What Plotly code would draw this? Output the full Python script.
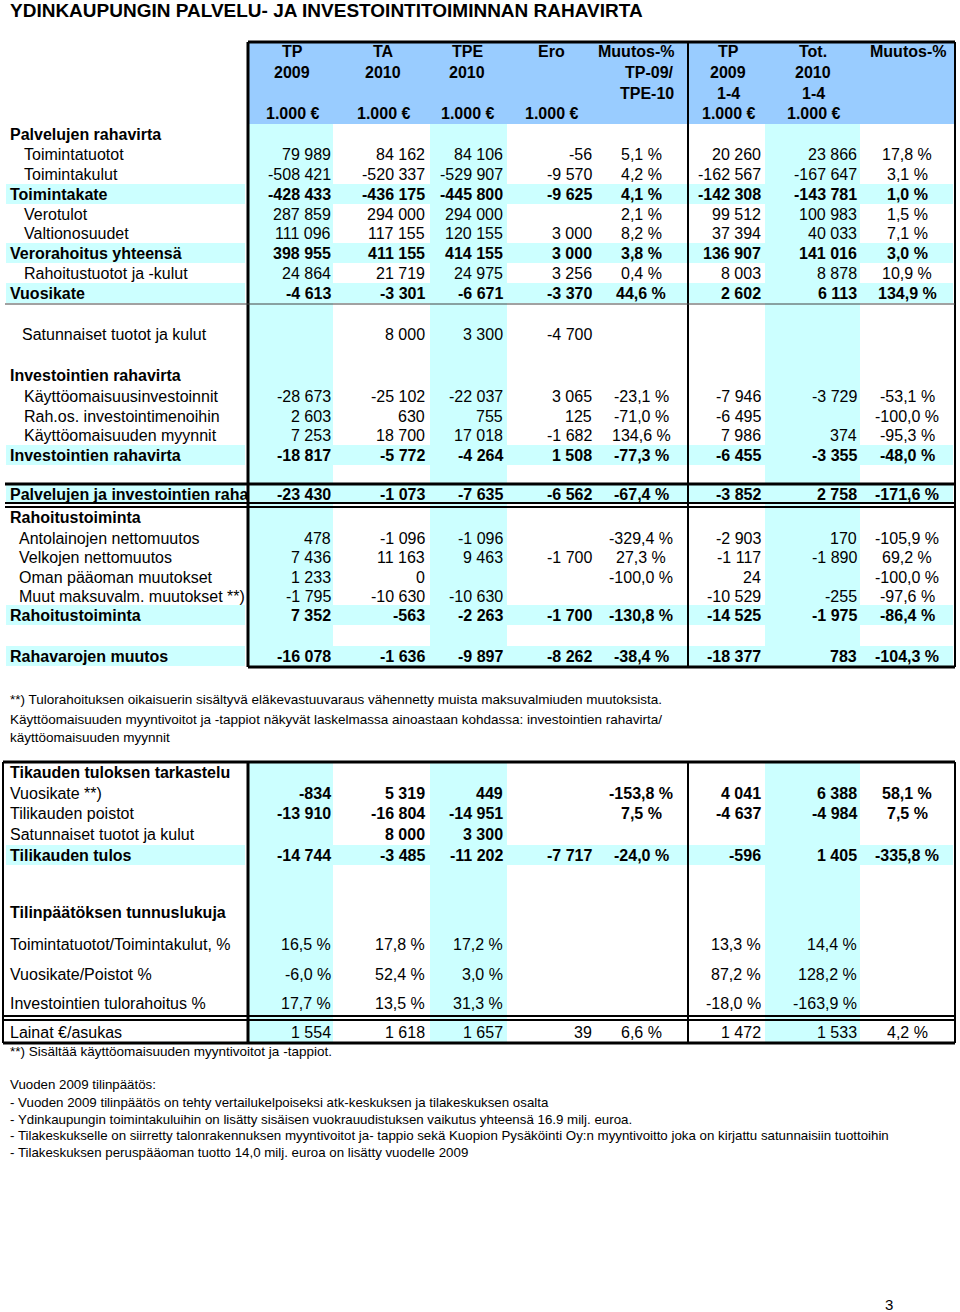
import plotly.graph_objects as go

BASE = "Liberation Sans, Arial, sans-serif"
NARROW = "Liberation Sans Narrow, Arial Narrow, Liberation Sans, sans-serif"
HEAD_BLUE = "#99CCFF"
CYAN = "#CCFFFF"

title = "YDINKAUPUNGIN PALVELU- JA INVESTOINTITOIMINNAN RAHAVIRTA"

# ---- header ----
header_rows = [
    ["TP", "TA", "TPE", "Ero", "Muutos-%", "TP", "Tot.", "Muutos-%"],
    ["2009", "2010", "2010", "", "TP-09/", "2009", "2010", ""],
    ["", "", "", "", "TPE-10", "1-4", "1-4", ""],
    ["1.000 €", "1.000 €", "1.000 €", "1.000 €", "", "1.000 €", "1.000 €", ""],
]

# ---- main cash flow table ----
main_labels = [
    "Palvelujen rahavirta", "Toimintatuotot", "Toimintakulut", "Toimintakate",
    "Verotulot", "Valtionosuudet", "Verorahoitus yhteensä", "Rahoitustuotot ja -kulut",
    "Vuosikate", "Satunnaiset tuotot ja kulut", "Investointien rahavirta",
    "Käyttöomaisuusinvestoinnit", "Rah.os. investointimenoihin", "Käyttöomaisuuden myynnit",
    "Investointien rahavirta", "Palvelujen ja investointien raha", "Rahoitustoiminta",
    "Antolainojen nettomuutos", "Velkojen nettomuutos", "Oman pääoman muutokset",
    "Muut maksuvalm. muutokset **)", "Rahoitustoiminta", "Rahavarojen muutos",
]
main_style = [
    "head", "sub", "sub", "total", "sub", "sub", "total", "sub", "total", "plain",
    "head", "sub", "sub", "sub", "total", "total", "head",
    "sub2", "sub2", "sub2", "sub2", "total", "total",
]
tp_2009 = [None, 79989, -508421, -428433, 287859, 111096, 398955, 24864, -4613, None,
           None, -28673, 2603, 7253, -18817, -23430, None,
           478, 7436, 1233, -1795, 7352, -16078]
ta_2010 = [None, 84162, -520337, -436175, 294000, 117155, 411155, 21719, -3301, 8000,
           None, -25102, 630, 18700, -5772, -1073, None,
           -1096, 11163, 0, -10630, -563, -1636]
tpe_2010 = [None, 84106, -529907, -445800, 294000, 120155, 414155, 24975, -6671, 3300,
            None, -22037, 755, 17018, -4264, -7635, None,
            -1096, 9463, None, -10630, -2263, -9897]
ero = [None, -56, -9570, -9625, None, 3000, 3000, 3256, -3370, -4700,
       None, 3065, 125, -1682, 1508, -6562, None,
       None, -1700, None, None, -1700, -8262]
muutos = [None, 5.1, 4.2, 4.1, 2.1, 8.2, 3.8, 0.4, 44.6, None,
          None, -23.1, -71.0, 134.6, -77.3, -67.4, None,
          -329.4, 27.3, -100.0, None, -130.8, -38.4]
tp_2009_14 = [None, 20260, -162567, -142308, 99512, 37394, 136907, 8003, 2602, None,
              None, -7946, -6495, 7986, -6455, -3852, None,
              -2903, -1117, 24, -10529, -14525, -18377]
tot_2010_14 = [None, 23866, -167647, -143781, 100983, 40033, 141016, 8878, 6113, None,
               None, -3729, None, 374, -3355, 2758, None,
               170, -1890, None, -255, -1975, 783]
muutos_14 = [None, 17.8, 3.1, 1.0, 1.5, 7.1, 3.0, 10.9, 134.9, None,
             None, -53.1, -100.0, -95.3, -48.0, -171.6, None,
             -105.9, 69.2, -100.0, -97.6, -86.4, -104.3]

# ---- result table ----
res_labels = ["Tikauden tuloksen tarkastelu", "Vuosikate **)", "Tilikauden poistot",
              "Satunnaiset tuotot ja kulut", "Tilikauden tulos"]
res_style = ["head", "bval", "bval", "bval", "total"]
res_tp_2009 = [None, -834, -13910, None, -14744]
res_ta_2010 = [None, 5319, -16804, 8000, -3485]
res_tpe_2010 = [None, 449, -14951, 3300, -11202]
res_ero = [None, None, None, None, -7717]
res_muutos = [None, -153.8, 7.5, None, -24.0]
res_tp_2009_14 = [None, 4041, -4637, None, -596]
res_tot_2010_14 = [None, 6388, -4984, None, 1405]
res_muutos_14 = [None, 58.1, 7.5, None, -335.8]

# ---- key figures ----
key_labels = ["Tilinpäätöksen tunnuslukuja", "Toimintatuotot/Toimintakulut, %",
              "Vuosikate/Poistot %", "Investointien tulorahoitus %", "Lainat €/asukas"]
key_kind = ["none", "pct", "pct", "pct", "num"]
key_tp_2009 = [None, 16.5, -6.0, 17.7, 1554]
key_ta_2010 = [None, 17.8, 52.4, 13.5, 1618]
key_tpe_2010 = [None, 17.2, 3.0, 31.3, 1657]
key_ero = [None, None, None, None, 39]
key_muutos = [None, None, None, None, 6.6]
key_tp_2009_14 = [None, 13.3, 87.2, -18.0, 1472]
key_tot_2010_14 = [None, 14.4, 128.2, -163.9, 1533]
key_muutos_14 = [None, None, None, None, 4.2]

notes_mid = [
    "**) Tulorahoituksen oikaisuerin sisältyvä eläkevastuuvaraus vähennetty muista maksuvalmiuden muutoksista.",
    "Käyttöomaisuuden myyntivoitot ja -tappiot näkyvät laskelmassa ainoastaan kohdassa: investointien rahavirta/",
    "käyttöomaisuuden myynnit",
]
note_key = "**) Sisältää käyttöomaisuuden myyntivoitot ja -tappiot."
notes_bottom = [
    "Vuoden 2009 tilinpäätös:",
    "- Vuoden 2009 tilinpäätös on tehty vertailukelpoiseksi atk-keskuksen ja tilakeskuksen osalta",
    "- Ydinkaupungin toimintakuluihin on lisätty sisäisen vuokrauudistuksen vaikutus yhteensä 16.9 milj. euroa.",
    "- Tilakeskukselle on siirretty talonrakennuksen myyntivoitot ja- tappio sekä Kuopion Pysäköinti Oy:n myyntivoitto joka on kirjattu satunnaisiin tuottoihin",
    "- Tilakeskuksen peruspääoman tuotto 14,0 milj. euroa on lisätty vuodelle 2009",
]
page_no = "3"

# ---- layout (pixel grid of the page) ----
col_x = [331, 425, 503, 592, 641, 761, 857, 907]
col_anchor = ["right"] * 4 + ["center"] + ["right"] * 2 + ["center"]
col_kind = ["num"] * 4 + ["pct"] + ["num"] * 2 + ["pct"]
head_x = [292, 383, 467, 551, 674, 728, 813, 946]
head_anchor = ["center"] * 4 + ["right"] + ["center"] * 2 + ["right"]
head_y = [51, 72, 93, 113]
main_y = [134, 154, 174, 194, 214, 233, 253, 273, 293, 334, 375, 396, 416, 435, 455,
          494, 517, 538, 557, 577, 596, 615, 656]
res_y = [772, 793, 813, 834, 855]
key_y = [912, 944, 974, 1003, 1032]
label_x = {"head": 10, "total": 10, "sub": 24, "sub2": 19, "plain": 22, "bval": 10}
cyan_cols = [(249, 333), (430, 507), (765, 860)]
FS = 16
# annotation padding compensation
DX = {"left": -2, "right": 2, "center": 0}

shapes = []
anns = []


def rect(x0, x1, y0, y1, color):
    shapes.append(dict(type="rect", xref="x", yref="y", x0=x0, x1=x1, y0=y0, y1=y1,
                       fillcolor=color, line=dict(width=0), layer="below"))


def line(x0, y0, x1, y1, w=2, color="black"):
    shapes.append(dict(type="line", xref="x", yref="y", x0=x0, y0=y0, x1=x1, y1=y1,
                       line=dict(color=color, width=w)))


def txt(x, y, s, anchor="left", bold=False, size=FS, family=BASE):
    anns.append(dict(x=x + DX[anchor], y=y, xref="x", yref="y",
                     text=f"<b>{s}</b>" if bold else s,
                     showarrow=False, xanchor=anchor, yanchor="middle",
                     font=dict(size=size, family=family, color="black")))


def fmt(v, kind):
    if v is None:
        return ""
    if kind == "pct":
        return f"{v:.1f}".replace(".", ",") + " %"
    return f"{v:,}".replace(",", " ")


# backgrounds
rect(249, 954, 43, 124, HEAD_BLUE)
for x0, x1 in cyan_cols:
    rect(x0, x1, 124, 667, CYAN)
    rect(x0, x1, 763, 1043, CYAN)
for y, st in zip(main_y, main_style):
    if st == "total":
        rect(6, 245, y - 10, y + 10, CYAN)
        rect(249, 953, y - 10, y + 10, CYAN)
for y, st in zip(res_y, res_style):
    if st == "total":
        rect(6, 245, y - 10, y + 10, CYAN)
        rect(249, 953, y - 10, y + 10, CYAN)

# title
txt(10, 10, title, bold=True, size=19, family=NARROW)

# header
for r, row in enumerate(header_rows):
    for c, s in enumerate(row):
        if s:
            txt(head_x[c], head_y[r], s, anchor=head_anchor[c], bold=True)

# main table
main_cols = [tp_2009, ta_2010, tpe_2010, ero, muutos, tp_2009_14, tot_2010_14, muutos_14]
for i, (lab, st, y) in enumerate(zip(main_labels, main_style, main_y)):
    bold = st in ("head", "total")
    txt(label_x[st], y, lab, bold=bold)
    for c, col in enumerate(main_cols):
        s = fmt(col[i], col_kind[c])
        if s:
            txt(col_x[c], y, s, anchor=col_anchor[c], bold=(st == "total"))

# result table
res_cols = [res_tp_2009, res_ta_2010, res_tpe_2010, res_ero, res_muutos,
            res_tp_2009_14, res_tot_2010_14, res_muutos_14]
for i, (lab, st, y) in enumerate(zip(res_labels, res_style, res_y)):
    txt(label_x[st], y, lab, bold=st in ("head", "total"))
    for c, col in enumerate(res_cols):
        s = fmt(col[i], col_kind[c])
        if s:
            txt(col_x[c], y, s, anchor=col_anchor[c], bold=True)

# key figures
key_cols = [key_tp_2009, key_ta_2010, key_tpe_2010, key_ero, key_muutos,
            key_tp_2009_14, key_tot_2010_14, key_muutos_14]
for i, (lab, kind, y) in enumerate(zip(key_labels, key_kind, key_y)):
    txt(10, y, lab, bold=(kind == "none"), size=16, family=NARROW)
    for c, col in enumerate(key_cols):
        k = kind if col_kind[c] == "num" else "pct"
        s = fmt(col[i], k)
        if s:
            txt(col_x[c], y, s, anchor=col_anchor[c], size=16, family=NARROW)

# notes
for s, y in zip(notes_mid, [699, 719, 737]):
    txt(10, y, s, size=13.5, family=NARROW)
txt(10, 1051, note_key, size=13.5, family=NARROW)
for s, y in zip(notes_bottom, [1084, 1102, 1119, 1135, 1152]):
    txt(10, y, s, size=13.3, family=NARROW)
txt(885, 1304, page_no, size=15)

# borders: main table
line(248, 42, 955, 42, 3)
for x in (248, 688, 955):
    line(x, 42, x, 667, 3 if x == 248 else 2)
line(248, 667, 955, 667, 3)
line(5, 304, 955, 304, 1, "#444444")
line(5, 484, 955, 484, 3)
line(5, 503, 955, 503, 2)
line(5, 507, 955, 507, 2)

# borders: lower table
line(3, 762, 955, 762, 3)
for x in (3, 248, 688, 955):
    line(x, 762, x, 1043, 3 if x == 248 else 2)
line(3, 1016, 955, 1016, 2)
line(3, 1020, 955, 1020, 2)
line(3, 1043, 955, 1043, 3)

fig = go.Figure()
fig.update_layout(
    width=960, height=1312,
    margin=dict(l=0, r=0, t=0, b=0),
    paper_bgcolor="white", plot_bgcolor="white",
    xaxis=dict(range=[0, 960], visible=False, fixedrange=True),
    yaxis=dict(range=[1312, 0], visible=False, fixedrange=True),
    shapes=shapes, annotations=anns, showlegend=False,
)
# drop the default page margin so the figure sits at the window's top-left corner
fig.write_html("out.html", config={"displayModeBar": False},
               post_script="document.body.style.margin='0';")
